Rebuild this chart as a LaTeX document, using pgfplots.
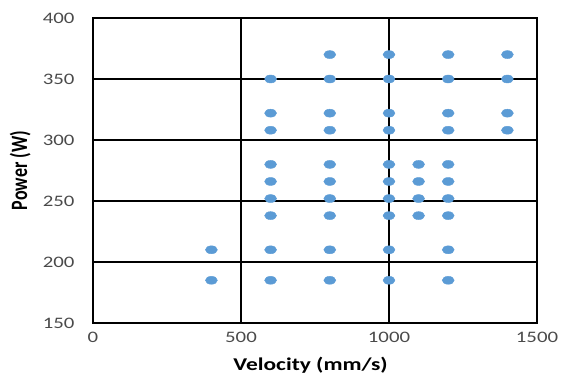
\documentclass[border=0pt]{standalone}
\usepackage{pgfplots}
\pgfplotsset{compat=1.18}
\usepackage{fontspec}
\setmainfont{Carlito}
\definecolor{ptblue}{HTML}{5B9BD5}
\definecolor{ticktext}{HTML}{4A4A4A}
\begin{document}
\begin{tikzpicture}[x=1pt,y=1pt]
\useasboundingbox (-93,-56) rectangle (470,323);
\begin{axis}[
  at={(0,0)}, anchor=south west,
  scale only axis,
  width=444pt, height=305pt,
  xmin=0, xmax=1500, ymin=150, ymax=400,
  xtick={0,500,1000,1500},
  ytick={150,200,250,300,350,400},
  major tick length=0pt,
  grid=major,
  major grid style={black, line width=1.3pt},
  axis line style={black, line width=1.3pt},
  tick label style={font=\fontsize{16}{19}\selectfont, text=ticktext},
  /pgf/number format/assume math mode=true,
  /pgf/number format/set thousands separator={},
  xticklabel={\scalebox{1.3}[1]{\pgfmathprintnumber{\tick}}},
  yticklabel={\scalebox{1.3}[1]{\pgfmathprintnumber{\tick}}},
  xticklabel style={yshift=-6pt},
  yticklabel style={xshift=-15pt},
  xlabel={\scalebox{1.3}[1]{\textbf{Velocity (mm/s)}}},
  ylabel={\scalebox{1}[1.3]{\textbf{Power (W)}}},
  label style={font=\fontsize{18}{21}\selectfont},
  xlabel style={at={(axis description cs:0.49,-0.138)}, anchor=center},
  ylabel style={at={(axis description cs:-0.164,0.5)}, anchor=center},
]
\addplot[only marks, mark=*, mark size=4pt, color=ptblue,
  mark options={xscale=1.5, draw=ptblue, fill=ptblue}] coordinates {
(400,185) (400,210)
(600,185) (600,210) (600,238) (600,252) (600,266) (600,280) (600,308) (600,322) (600,350)
(800,185) (800,210) (800,238) (800,252) (800,266) (800,280) (800,308) (800,322) (800,350) (800,370)
(1000,185) (1000,210) (1000,238) (1000,252) (1000,266) (1000,280) (1000,308) (1000,322) (1000,350) (1000,370)
(1100,238) (1100,252) (1100,266) (1100,280)
(1200,185) (1200,210) (1200,238) (1200,252) (1200,266) (1200,280) (1200,308) (1200,322) (1200,350) (1200,370)
(1400,308) (1400,322) (1400,350) (1400,370)
};
\end{axis}
\end{tikzpicture}
\end{document}
